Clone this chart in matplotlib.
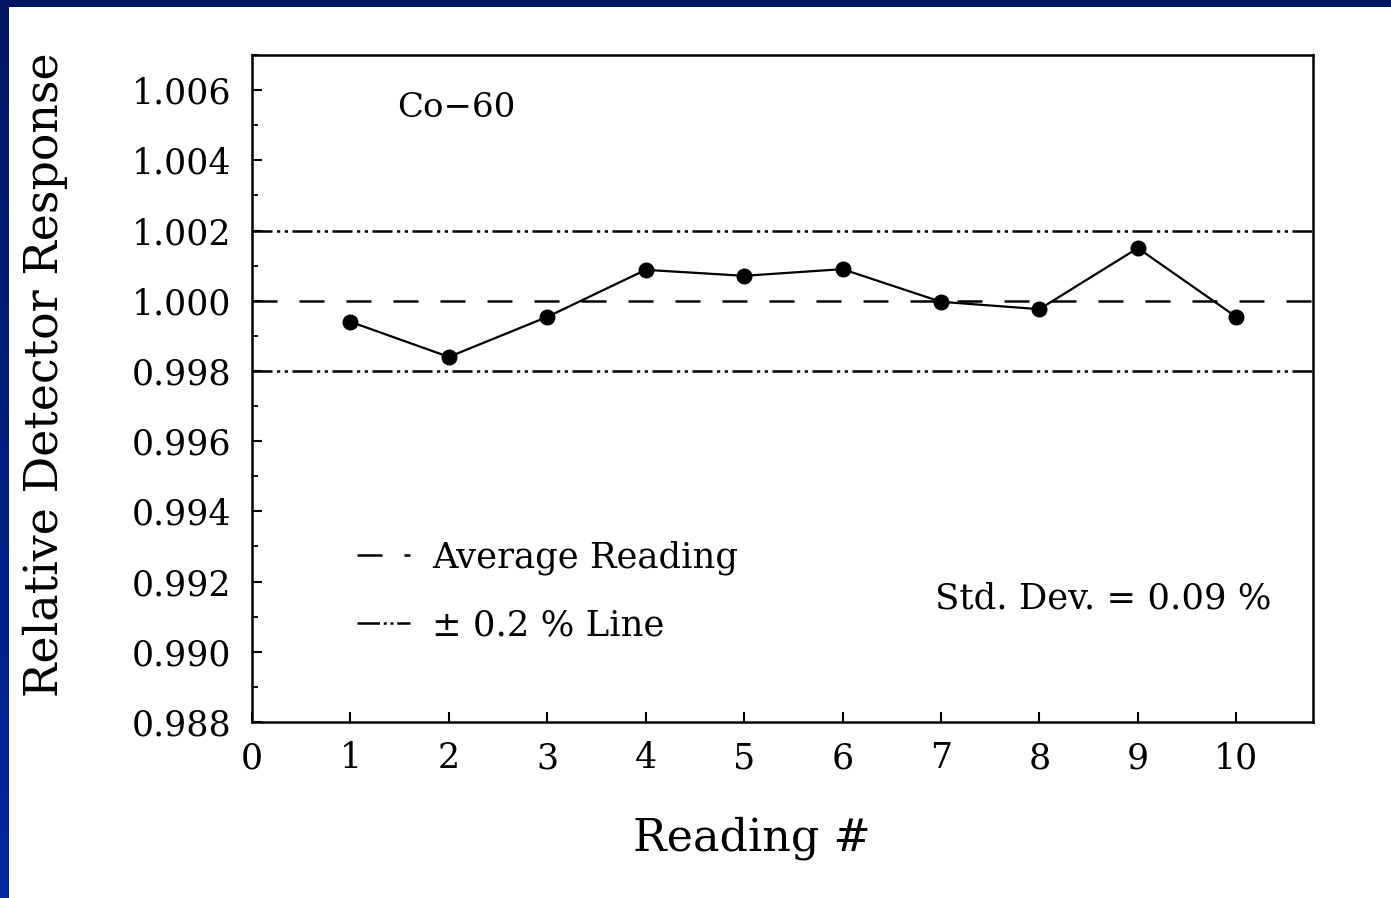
import numpy as np
import matplotlib
matplotlib.use("Agg")
import matplotlib.pyplot as plt
from matplotlib.lines import Line2D
from matplotlib.ticker import MultipleLocator

plt.rcParams["font.family"] = ["DejaVu Serif"]

# readings of the Co-60 source, normalised to the mean
reading = [1, 2, 3, 4, 5, 6, 7, 8, 9, 10]
response = [0.99940, 0.99840, 0.99954, 1.00088, 1.00071,
            1.00090, 0.99997, 0.99976, 1.00150, 0.99954]
avg_level = 1.000
band_lo, band_hi = 0.998, 1.002
std_text = "Std. Dev. = 0.09 %"
source = "Co\u221260"

fig = plt.figure(figsize=(13.91, 8.98), dpi=100)
fig.patch.set_facecolor("white")

# slide frame: navy strip on top, blue gradient down the left edge
top = fig.add_axes([0, 1 - 7 / 898, 1, 7 / 898])
top.set_axis_off()
top.add_patch(plt.Rectangle((0, 0), 1, 1, color="#001560", transform=top.transAxes))
left = fig.add_axes([0, 0, 9 / 1391, 1 - 7 / 898])
grad = np.linspace(0, 1, 256)[:, None]
left.imshow(grad, aspect="auto", cmap=matplotlib.colors.LinearSegmentedColormap.from_list(
    "edge", ["#001660", "#0028a0"]), extent=[0, 1, 0, 1], origin="upper")
left.set_axis_off()

ax = fig.add_axes([252 / 1391, 176 / 898, 1061 / 1391, 667 / 898])
lw = 1.8
dash_avg = (0, (10, 8.8))
dash_band = (0, (8, 1.8, 1.3, 1.8, 1.3, 1.8))

ax.axhline(avg_level, color="black", lw=lw, ls=dash_avg)
ax.axhline(band_hi, color="black", lw=lw, ls=dash_band)
ax.axhline(band_lo, color="black", lw=lw, ls=dash_band)
ax.plot(reading, response, "-", color="black", lw=1.6, marker="o", ms=10.5,
        markerfacecolor="black", markeredgecolor="black")

ax.set_xlim(0, 10.78)
ax.set_ylim(0.988, 1.007)
ax.xaxis.set_major_locator(MultipleLocator(1))
ax.yaxis.set_major_locator(MultipleLocator(0.002))
ax.yaxis.set_minor_locator(MultipleLocator(0.001))
ax.yaxis.set_major_formatter(matplotlib.ticker.FormatStrFormatter("%.3f"))
ax.tick_params(axis="both", which="major", direction="in", length=7, width=1.5,
               labelsize=25, top=False, right=False)
ax.tick_params(axis="y", which="major", pad=15)
ax.tick_params(axis="x", which="major", pad=14)
ax.tick_params(axis="y", which="minor", direction="in", length=4, width=1.3)
for s in ax.spines.values():
    s.set_linewidth(1.8)

ax.set_xlabel("Reading #", fontsize=32)
ax.xaxis.set_label_coords(0.471, -0.142)
fig.text(45 / 1391, 1 - 375 / 898, "Relative Detector Response", rotation=90,
         fontsize=33, ha="center", va="center")

ax.text(1.47, 1.00548, source, fontsize=24.5, ha="left", va="center")
ax.text(6.94, 0.99153, std_text, fontsize=25.5, ha="left", va="center")

handles = [Line2D([0], [0], color="black", lw=lw, ls=dash_avg),
           Line2D([0], [0], color="black", lw=lw, ls=(0, (9, 1.5, 1.2, 1.5, 1.2, 1.5)))]
ax.legend(handles, ["Average Reading", "\u00b1 0.2 % Line"], frameon=False,
          fontsize=25.5, loc="center left", bbox_to_anchor=(0.099, 0.196),
          borderpad=0, borderaxespad=0, handlelength=1.5, handletextpad=0.62,
          labelspacing=0.95)

fig.savefig("out.png", dpi=100)
